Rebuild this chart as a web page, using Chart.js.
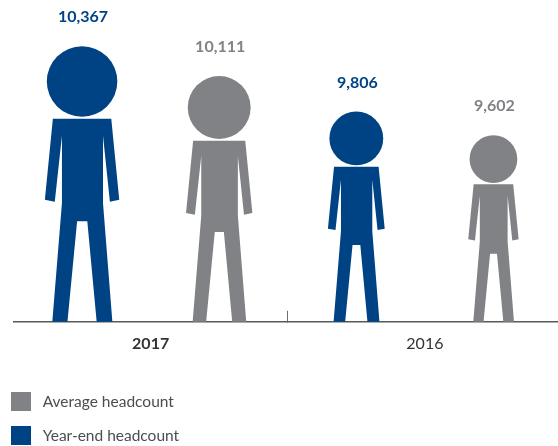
<!DOCTYPE html>
<html>
<head>
<meta charset="utf-8">
<script src="https://cdn.jsdelivr.net/npm/chart.js@4"></script>
<style>
  html, body { margin: 0; padding: 0; background: #fff; overflow: hidden; }
  #wrap { width: 558px; height: 446px; overflow: hidden; }
</style>
</head>
<body>
<div id="wrap"><canvas id="chart" width="562" height="446"></canvas></div>
<script>
// --- Data ---
const years = ['2017', '2016'];
const yearEnd = [10367, 9806];
const average = [10111, 9602];

const BLUE = '#004385';
const GREY = '#808285';
const FONT = 'Lato';
const Y_MIN = 7997;
const Y_MAX = 10765;

// person outline, in fractions of the figure height (x from centre, y from top)
const BODY = [
  [-0.106, 0.263], [0.106, 0.263], [0.135, 0.557], [0.101, 0.564], [0.076, 0.325],
  [0.076, 0.569], [0.110, 1], [0.053, 1], [0.019, 0.635], [-0.018, 0.635],
  [-0.053, 1], [-0.108, 1], [-0.073, 0.569], [-0.073, 0.325], [-0.099, 0.564], [-0.135, 0.557],
];
const HEAD_Y = 0.128;
const HEAD_R = 0.128;

function drawPerson(ctx, x, top, base, color) {
  const h = base - top;
  ctx.fillStyle = color;
  ctx.beginPath();
  ctx.arc(x, top + HEAD_Y * h, HEAD_R * h, 0, Math.PI * 2);
  ctx.fill();
  ctx.beginPath();
  BODY.forEach(([px, py], i) => {
    if (i === 0) ctx.moveTo(x + px * h, top + py * h);
    else ctx.lineTo(x + px * h, top + py * h);
  });
  ctx.closePath();
  ctx.fill();
}

// Bars are replaced by figures, with the value above the head
const peoplePlugin = {
  id: 'people',
  beforeDatasetDraw(chart, args) {
    const ctx = chart.ctx;
    const ds = chart.data.datasets[args.index];
    ctx.save();
    args.meta.data.forEach((bar, i) => {
      drawPerson(ctx, bar.x, bar.y, bar.base, ds.backgroundColor);
      ctx.fillStyle = ds.backgroundColor;
      ctx.font = 'bold 16px ' + FONT;
      ctx.textAlign = 'center';
      ctx.textBaseline = 'middle';
      ctx.fillText(ds.data[i].toLocaleString('en-US'), bar.x + 1, bar.y - 29);
    });
    ctx.restore();
    return false;
  },
  // legend sits under the axis, as a column on the left
  afterLayout(chart) {
    const l = chart.legend;
    l.left = -4;
    l.right = l.left + l.width;
    l.top = 377;
    l.bottom = l.top + l.height;
    l.adjustHitBoxes();
  },
};

new Chart(document.getElementById('chart'), {
  type: 'bar',
  data: {
    labels: years,
    datasets: [
      { label: 'Year-end headcount', data: yearEnd, backgroundColor: BLUE, base: Y_MIN },
      { label: 'Average headcount', data: average, backgroundColor: GREY, base: Y_MIN },
    ],
  },
  options: {
    responsive: false,
    animation: false,
    layout: { padding: { left: 13.5, right: 0, top: 0, bottom: 70 } },
    datasets: { bar: { categoryPercentage: 1, barPercentage: 1 } },
    scales: {
      x: {
        offset: true,
        grid: {
          offset: true,
          drawOnChartArea: false,
          tickLength: -11,
          color: ctx => (ctx.index === 1 ? '#6d6e71' : 'rgba(0,0,0,0)'),
        },
        border: { color: '#58595b', width: 1.5 },
        ticks: {
          padding: 23,
          color: '#333333',
          maxRotation: 0,
          font: ctx => ({ family: FONT, size: 16, weight: ctx.index === 0 ? 'bold' : 'normal' }),
        },
      },
      y: { display: false, min: Y_MIN, max: Y_MAX },
    },
    plugins: {
      tooltip: { enabled: false },
      legend: {
        position: 'chartArea',
        align: 'start',
        labels: {
          boxWidth: 20,
          boxHeight: 19,
          padding: 15,
          color: '#4d4d4f',
          font: { family: FONT, size: 15.5 },
          sort: (a, b) => b.datasetIndex - a.datasetIndex,
          generateLabels(chart) {
            const items = Chart.defaults.plugins.legend.labels.generateLabels(chart);
            items.forEach(it => { it.text = ' ' + it.text; it.lineWidth = 0; });
            return items;
          },
        },
      },
    },
  },
  plugins: [peoplePlugin],
});
</script>
</body>
</html>
